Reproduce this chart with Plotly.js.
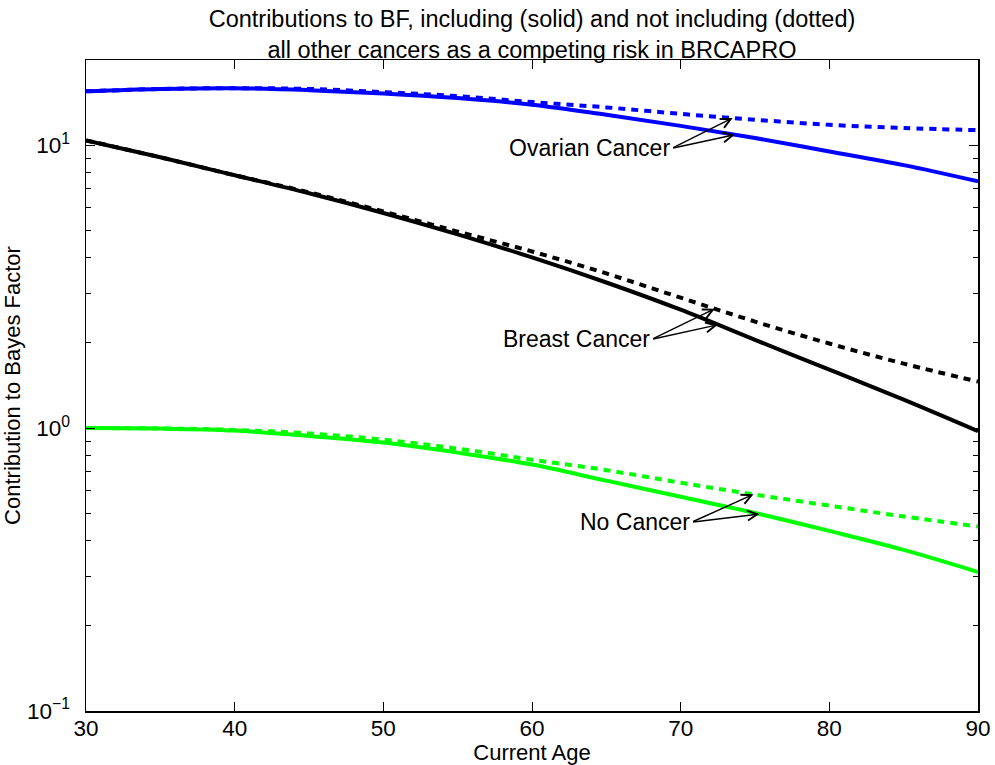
<!DOCTYPE html>
<html>
<head>
<meta charset="utf-8">
<script src="https://cdn.plot.ly/plotly-3.0.1.min.js"></script>
<style>html,body{margin:0;padding:0;background:#fff}#chart{width:995px;height:765px}</style>
</head>
<body>
<div id="chart"></div>
<script>
// ---- data ----
const ages = [30, 35, 40, 45, 50, 55, 60, 65, 70, 75, 80, 85, 90];
const ovarianWith    = [15.5, 15.8, 15.9, 15.65, 15.24, 14.67, 13.9, 12.8, 11.7, 10.6, 9.5, 8.5, 7.45];
const ovarianWithout = [15.5, 15.8, 15.9, 15.8, 15.4, 14.9, 14.2, 13.6, 12.9, 12.3, 11.8, 11.5, 11.3];
const breastWith     = [10.4, 9.06, 7.83, 6.76, 5.76, 4.84, 4.01, 3.27, 2.62, 2.05, 1.61, 1.26, 0.975];
const breastWithout  = [10.4, 9.06, 7.83, 6.81, 5.83, 4.95, 4.21, 3.52, 2.89, 2.38, 1.99, 1.69, 1.46];
const noneWith       = [1.0, 0.996, 0.98, 0.938, 0.889, 0.819, 0.743, 0.652, 0.572, 0.501, 0.433, 0.371, 0.31];
const noneWithout    = [1.0, 0.997, 0.985, 0.957, 0.91, 0.846, 0.773, 0.71, 0.641, 0.582, 0.532, 0.487, 0.449];

const xTicks = [30, 40, 50, 60, 70, 80, 90];
const yTickVals = [0.1, 1, 10];
const yTickText = ['10<sup>−1</sup>', '10<sup>0</sup>', '10<sup>1</sup>'];
const yMinorVals = [0.2,0.3,0.4,0.5,0.6,0.7,0.8,0.9,2,3,4,5,6,7,8,9,20];

// annotation labels: text, label anchor (age, value), arrow tip ages on dotted / solid series
const labelTexts  = ['Ovarian Cancer', 'Breast Cancer', 'No Cancer'];
const labelAges   = [69.4, 68.05, 70.74];
const labelValues = [9.75, 2.06, 0.465];
const tipAgesDot  = [73.5, 72.3, 74.9];
const tipAgesSol  = [73.65, 72.5, 75.3];

const colors = ['#0000ff', '#000000', '#00ff00'];
const solidSeries = [ovarianWith, breastWith, noneWith];
const dotSeries = [ovarianWithout, breastWithout, noneWithout];

function interpLog(xs, ys, x) {
  for (let i = 0; i < xs.length - 1; i++) {
    if (x >= xs[i] && x <= xs[i+1]) {
      const t = (x - xs[i]) / (xs[i+1] - xs[i]);
      return Math.log10(ys[i]) * (1 - t) + Math.log10(ys[i+1]) * t;
    }
  }
  return Math.log10(ys[ys.length - 1]);
}

const traces = [];
for (let k = 0; k < 3; k++) {
  traces.push({x: ages, y: dotSeries[k], mode: 'lines', type: 'scatter',
    line: {color: colors[k], width: 4, dash: '7px,6px', shape: 'spline', smoothing: 1.0},
    hoverinfo: 'skip', showlegend: false});
  traces.push({x: ages, y: solidSeries[k], mode: 'lines', type: 'scatter',
    line: {color: colors[k], width: 4, shape: 'spline', smoothing: 1.0},
    hoverinfo: 'skip', showlegend: false});
}
// invisible trace on the minor-tick axis
traces.push({x: [ages[0]], y: [1], yaxis: 'y2', mode: 'markers', marker: {opacity: 0}, hoverinfo: 'skip', showlegend: false});

const FONT = 'Liberation Sans, Arial, sans-serif';
const annotations = [];
for (let k = 0; k < 3; k++) {
  const ly = Math.log10(labelValues[k]);
  annotations.push({x: labelAges[k], y: ly, xref: 'x', yref: 'y', text: labelTexts[k],
    showarrow: false, xanchor: 'right', yanchor: 'middle', font: {family: FONT, size: 23, color: '#000'}});
  const tips = [[tipAgesDot[k], interpLog(ages, dotSeries[k], tipAgesDot[k])],
                [tipAgesSol[k], interpLog(ages, solidSeries[k], tipAgesSol[k])]];
  tips.forEach(function(tp) {
    annotations.push({x: tp[0], y: tp[1], xref: 'x', yref: 'y', ax: labelAges[k], ay: ly,
      axref: 'x', ayref: 'y', text: '', showarrow: true, arrowhead: 5, arrowsize: 1.4,
      arrowwidth: 1.4, arrowcolor: '#000', standoff: 0, startstandoff: 0});
  });
}

const yRange = [-1, Math.log10(20)];
const layout = {
  width: 995, height: 765,
  paper_bgcolor: '#fff', plot_bgcolor: '#fff',
  margin: {l: 86, r: 17, t: 60, b: 54},
  font: {family: FONT, size: 22, color: '#000'},
  title: {text: 'Contributions to BF, including (solid) and not including (dotted)<br>all other cancers as a competing risk in BRCAPRO',
    font: {family: FONT, size: 23.5, color: '#000'}, x: 0.5, xref: 'paper', xanchor: 'center',
    y: 1 - 27/765, yref: 'container', yanchor: 'middle'},
  xaxis: {range: [30, 90], tickvals: xTicks, ticks: 'inside', ticklen: 9, tickwidth: 1, tickcolor: '#000',
    showline: true, linecolor: '#000', linewidth: 1.5, mirror: 'ticks', showgrid: false, zeroline: false,
    tickfont: {family: FONT, size: 22.5, color: '#000'}, ticklabelstandoff: -4,
    title: {text: 'Current Age', font: {family: FONT, size: 22, color: '#000'}, standoff: 0}},
  yaxis: {type: 'log', range: yRange, tickvals: yTickVals, ticktext: yTickText, ticks: 'inside', ticklen: 9,
    tickwidth: 1, tickcolor: '#000', showline: true, linecolor: '#000', linewidth: 1.5, mirror: 'ticks',
    showgrid: false, zeroline: false, tickfont: {family: FONT, size: 22.5, color: '#000'}, ticklabelstandoff: 10,
    title: {text: 'Contribution to Bayes Factor', font: {family: FONT, size: 22, color: '#000'}, standoff: 0}},
  yaxis2: {type: 'log', range: yRange, overlaying: 'y', side: 'left', tickvals: yMinorVals, ticks: 'inside',
    ticklen: 5, tickwidth: 1, tickcolor: '#000', showticklabels: false, showline: false, mirror: 'ticks',
    showgrid: false, zeroline: false},
  annotations: annotations,
  showlegend: false
};
Plotly.newPlot('chart', traces, layout, {staticPlot: true});
</script>
</body>
</html>
